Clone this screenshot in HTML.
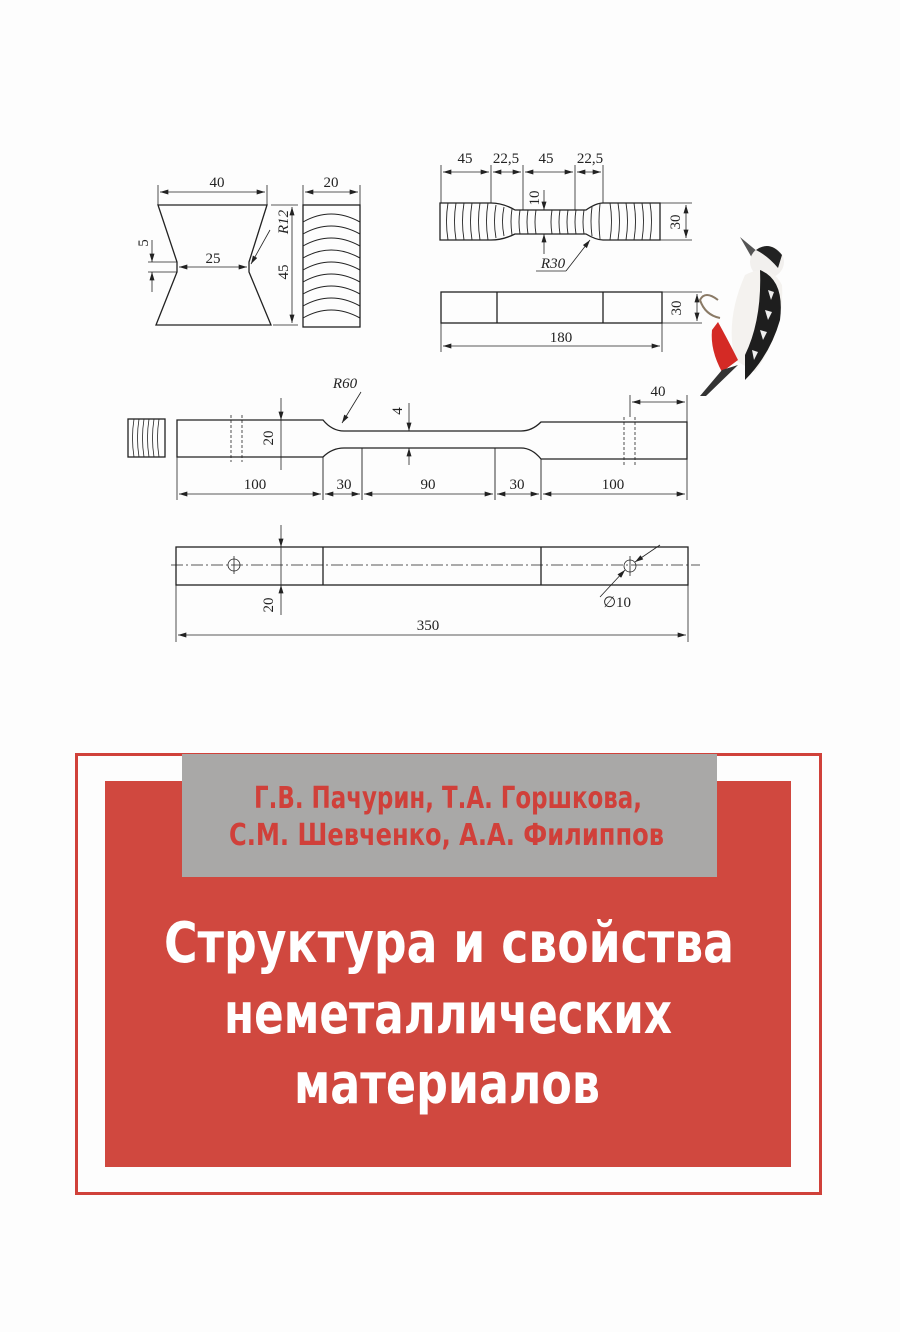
<!DOCTYPE html>
<html><head><meta charset="utf-8"><style>
html,body{margin:0;padding:0;background:#fff}
svg{display:block}
</style></head><body>
<svg width="900" height="1332" viewBox="0 0 900 1332" xmlns="http://www.w3.org/2000/svg">
<defs>
<marker id="a" viewBox="0 0 10 6" refX="10" refY="3" markerWidth="9" markerHeight="5" orient="auto-start-reverse" markerUnits="userSpaceOnUse"><path d="M0,0 L10,3 L0,6z" fill="#222"/></marker>
</defs>
<rect width="900" height="1332" fill="#fdfdfd"/>
<g stroke="#222" stroke-width="1.3" fill="none" font-family="Liberation Serif, serif" font-size="15">
<!-- trapezoid -->
<path d="M158,205 L267,205 L249,262 L249,272 L271,325 L156,325 L177,272 L177,262 Z"/>
<line x1="158" y1="205" x2="158" y2="185" stroke-width="0.8"/><line x1="267" y1="205" x2="267" y2="185" stroke-width="0.8"/>
<line x1="160" y1="192" x2="265" y2="192" stroke-width="0.8" marker-start="url(#a)" marker-end="url(#a)"/>
<line x1="179" y1="267" x2="247" y2="267" stroke-width="0.8" marker-start="url(#a)" marker-end="url(#a)"/>
<line x1="148" y1="262" x2="177" y2="262" stroke-width="0.8"/><line x1="148" y1="272" x2="177" y2="272" stroke-width="0.8"/>
<line x1="152" y1="240" x2="152" y2="262" stroke-width="0.8" marker-end="url(#a)"/><line x1="152" y1="292" x2="152" y2="272" stroke-width="0.8" marker-end="url(#a)"/>
<line x1="271" y1="205" x2="298" y2="205" stroke-width="0.8"/><line x1="273" y1="325" x2="298" y2="325" stroke-width="0.8"/>
<line x1="292" y1="207" x2="292" y2="323" stroke-width="0.8" marker-start="url(#a)" marker-end="url(#a)"/>
<line x1="270" y1="230" x2="251" y2="264" stroke-width="0.8" marker-end="url(#a)"/>
<!-- block 20 -->
<rect x="303" y="205" width="57" height="122"/>
<g stroke-width="1">
<path d="M303,222 Q331,206 360,222"/><path d="M303,234 Q331,218 360,234"/><path d="M303,246 Q331,230 360,246"/><path d="M303,258 Q331,242 360,258"/><path d="M303,270 Q331,254 360,270"/><path d="M303,282 Q331,266 360,282"/><path d="M303,294 Q331,278 360,294"/><path d="M303,306 Q331,290 360,306"/><path d="M303,318 Q331,302 360,318"/>
</g>
<line x1="303" y1="205" x2="303" y2="185" stroke-width="0.8"/><line x1="360" y1="205" x2="360" y2="185" stroke-width="0.8"/>
<line x1="305" y1="192" x2="358" y2="192" stroke-width="0.8" marker-start="url(#a)" marker-end="url(#a)"/>
<!-- dogbone -->
<path d="M440,203 L491,203 Q503,203 515,210 L586,210 Q596,203 603,203 L660,203 L660,240 L603,240 Q596,240 586,234 L515,234 Q503,240 491,240 L440,240 Z"/>
<g stroke-width="0.9">
<path d="M448,203 Q445,221 448,240"/><path d="M456,203 Q453,221 456,240"/><path d="M464,203 Q461,221 464,240"/><path d="M472,203 Q469,221 472,240"/><path d="M480,203 Q477,221 480,240"/><path d="M488,203 Q485,221 488,240"/><path d="M496,205 Q493,221 496,238"/><path d="M504,207 Q501,221 504,236"/><path d="M512,209 Q510,221 512,235"/><path d="M520,210 Q518,222 520,234"/><path d="M528,210 Q526,222 528,234"/><path d="M536,210 Q534,222 536,234"/><path d="M552,210 Q550,222 552,234"/><path d="M560,210 Q558,222 560,234"/><path d="M568,210 Q566,222 568,234"/><path d="M576,210 Q574,222 576,234"/><path d="M584,210 Q582,222 584,234"/><path d="M592,207 Q590,221 592,236"/><path d="M600,204 Q598,221 600,239"/><path d="M610,203 Q613,221 610,240"/><path d="M618,203 Q621,221 618,240"/><path d="M626,203 Q629,221 626,240"/><path d="M634,203 Q637,221 634,240"/><path d="M642,203 Q645,221 642,240"/><path d="M650,203 Q653,221 650,240"/>
</g>
<g stroke-width="0.8">
<line x1="441" y1="203" x2="441" y2="165"/><line x1="491" y1="203" x2="491" y2="165"/><line x1="523" y1="210" x2="523" y2="165"/><line x1="575" y1="210" x2="575" y2="165"/><line x1="603" y1="203" x2="603" y2="165"/>
<line x1="443" y1="172" x2="489" y2="172" marker-start="url(#a)" marker-end="url(#a)"/>
<line x1="493" y1="172" x2="521" y2="172" marker-start="url(#a)" marker-end="url(#a)"/>
<line x1="525" y1="172" x2="573" y2="172" marker-start="url(#a)" marker-end="url(#a)"/>
<line x1="577" y1="172" x2="601" y2="172" marker-start="url(#a)" marker-end="url(#a)"/>
<line x1="660" y1="203" x2="692" y2="203"/><line x1="660" y1="240" x2="692" y2="240"/>
<line x1="686" y1="205" x2="686" y2="238" marker-start="url(#a)" marker-end="url(#a)"/>
<line x1="544" y1="190" x2="544" y2="210" marker-end="url(#a)"/><line x1="544" y1="254" x2="544" y2="234" marker-end="url(#a)"/>
<line x1="536" y1="271" x2="566" y2="271"/><line x1="566" y1="271" x2="590" y2="240" marker-end="url(#a)"/>
</g>
<!-- rect 180 -->
<rect x="441" y="292" width="221" height="31"/>
<line x1="497" y1="292" x2="497" y2="323"/><line x1="603" y1="292" x2="603" y2="323"/>
<g stroke-width="0.8">
<line x1="441" y1="323" x2="441" y2="352"/><line x1="662" y1="323" x2="662" y2="352"/>
<line x1="443" y1="346" x2="660" y2="346" marker-start="url(#a)" marker-end="url(#a)"/>
<line x1="662" y1="292" x2="702" y2="292"/><line x1="662" y1="323" x2="702" y2="323"/>
<line x1="697" y1="294" x2="697" y2="321" marker-start="url(#a)" marker-end="url(#a)"/>
</g>
<!-- small block -->
<rect x="128" y="419" width="37" height="38"/>
<g stroke-width="0.8"><path d="M134,419 Q131,438 134,457"/><path d="M139,419 Q136,438 139,457"/><path d="M144,419 Q141,438 144,457"/><path d="M149,419 Q146,438 149,457"/><path d="M154,419 Q151,438 154,457"/><path d="M159,419 Q156,438 159,457"/></g>
<!-- long specimen -->
<path d="M177,420 L323,420 Q332,431 344,431 L521,431 Q532,431 541,422 L687,422 L687,459 L541,459 Q532,448 521,448 L344,448 Q332,448 323,457 L177,457 Z"/>
<line x1="362" y1="448" x2="362" y2="500" stroke-width="0.9"/><line x1="495" y1="448" x2="495" y2="500" stroke-width="0.9"/>
<line x1="323" y1="457" x2="323" y2="500" stroke-width="0.9"/><line x1="541" y1="459" x2="541" y2="500" stroke-width="0.9"/>
<g stroke-width="0.8">
<line x1="231" y1="415" x2="231" y2="462" stroke-dasharray="3,2"/><line x1="242" y1="415" x2="242" y2="462" stroke-dasharray="3,2"/>
<line x1="624" y1="417" x2="624" y2="465" stroke-dasharray="3,2"/><line x1="635" y1="417" x2="635" y2="465" stroke-dasharray="3,2"/>
<line x1="177" y1="457" x2="177" y2="500"/><line x1="687" y1="459" x2="687" y2="500"/><line x1="687" y1="422" x2="687" y2="395"/><line x1="630" y1="417" x2="630" y2="395"/>
<line x1="179" y1="494" x2="321" y2="494" marker-start="url(#a)" marker-end="url(#a)"/>
<line x1="325" y1="494" x2="360" y2="494" marker-start="url(#a)" marker-end="url(#a)"/>
<line x1="364" y1="494" x2="493" y2="494" marker-start="url(#a)" marker-end="url(#a)"/>
<line x1="497" y1="494" x2="539" y2="494" marker-start="url(#a)" marker-end="url(#a)"/>
<line x1="543" y1="494" x2="685" y2="494" marker-start="url(#a)" marker-end="url(#a)"/>
<line x1="632" y1="402" x2="685" y2="402" marker-start="url(#a)" marker-end="url(#a)"/>
<line x1="281" y1="398" x2="281" y2="420" marker-end="url(#a)"/><line x1="281" y1="420" x2="281" y2="470"/>
<line x1="409" y1="403" x2="409" y2="431" marker-end="url(#a)"/><line x1="409" y1="465" x2="409" y2="448" marker-end="url(#a)"/>
<line x1="361" y1="392" x2="342" y2="423" marker-end="url(#a)"/>
</g>
<!-- bottom bar -->
<rect x="176" y="547" width="512" height="38"/>
<line x1="323" y1="547" x2="323" y2="585"/><line x1="541" y1="547" x2="541" y2="585"/>
<g stroke-width="0.8">
<line x1="171" y1="565" x2="700" y2="565" stroke-dasharray="12,3,2,3"/>
<circle cx="234" cy="565" r="6"/><line x1="234" y1="556" x2="234" y2="574"/>
<circle cx="630" cy="566" r="6"/><line x1="630" y1="556" x2="630" y2="576"/>
<line x1="281" y1="525" x2="281" y2="547" marker-end="url(#a)"/><line x1="281" y1="547" x2="281" y2="585"/><line x1="281" y1="615" x2="281" y2="585" marker-end="url(#a)"/>
<line x1="660" y1="545" x2="635" y2="562" marker-end="url(#a)"/><line x1="600" y1="597" x2="625" y2="570" marker-end="url(#a)"/>
<line x1="176" y1="585" x2="176" y2="642"/><line x1="688" y1="585" x2="688" y2="642"/>
<line x1="178" y1="635" x2="686" y2="635" marker-start="url(#a)" marker-end="url(#a)"/>
</g>
</g>
<g font-family="Liberation Serif, serif" font-size="15" fill="#222">
<text x="217" y="187" text-anchor="middle">40</text>
<text x="213" y="263" text-anchor="middle">25</text>
<text x="331" y="187" text-anchor="middle">20</text>
<text transform="translate(148,243) rotate(-90)" text-anchor="middle">5</text>
<text transform="translate(288,272) rotate(-90)" text-anchor="middle">45</text>
<text transform="translate(288,222) rotate(-90)" text-anchor="middle" font-style="italic">R12</text>
<text x="465" y="163" text-anchor="middle">45</text>
<text x="506" y="163" text-anchor="middle">22,5</text>
<text x="546" y="163" text-anchor="middle">45</text>
<text x="590" y="163" text-anchor="middle">22,5</text>
<text transform="translate(539,198) rotate(-90)" text-anchor="middle">10</text>
<text transform="translate(680,222) rotate(-90)" text-anchor="middle">30</text>
<text x="553" y="268" text-anchor="middle" font-style="italic">R30</text>
<text x="561" y="342" text-anchor="middle">180</text>
<text transform="translate(681,308) rotate(-90)" text-anchor="middle">30</text>
<text x="345" y="388" text-anchor="middle" font-style="italic">R60</text>
<text x="658" y="396" text-anchor="middle">40</text>
<text transform="translate(402,411) rotate(-90)" text-anchor="middle">4</text>
<text transform="translate(273,438) rotate(-90)" text-anchor="middle">20</text>
<text x="255" y="489" text-anchor="middle">100</text>
<text x="344" y="489" text-anchor="middle">30</text>
<text x="428" y="489" text-anchor="middle">90</text>
<text x="517" y="489" text-anchor="middle">30</text>
<text x="613" y="489" text-anchor="middle">100</text>
<text transform="translate(273,605) rotate(-90)" text-anchor="middle">20</text>
<text x="617" y="607" text-anchor="middle">∅10</text>
<text x="428" y="630" text-anchor="middle">350</text>
</g>
<!-- bird -->
<g>
<path d="M740,237 L758,252 L752,258 Z" fill="#555"/>
<ellipse cx="767" cy="262" rx="17" ry="16" fill="#f2f0ee"/>
<path d="M756,250 Q770,240 782,255 L778,268 Q768,256 756,250Z" fill="#222"/>
<path d="M745,275 Q770,262 782,285 Q785,330 755,372 L735,360 Q725,320 745,275Z" fill="#f4f2ef"/>
<path d="M760,270 Q785,280 780,320 Q770,355 745,380 L745,355 Q762,320 760,270Z" fill="#1e1e1e"/>
<path d="M768,290 l6,2 l-3,8z M765,310 l7,2 l-4,8z M760,330 l7,2 l-4,8z M752,350 l6,2 l-4,8z" fill="#eee"/>
<path d="M718,322 Q728,340 738,360 L722,372 Q710,350 712,330Z" fill="#d42a25"/>
<path d="M722,370 L700,396 L706,396 L738,365Z" fill="#333"/>
<path d="M718,300 Q705,290 700,300 Q705,315 720,318" fill="none" stroke="#8a7a66" stroke-width="2"/>
</g>
<!-- red panel -->
<rect x="76.5" y="754.5" width="744" height="439" fill="none" stroke="#d0413a" stroke-width="3"/>
<rect x="105" y="781" width="686" height="386" fill="#d0483f"/>
<rect x="182" y="754" width="535" height="123" fill="#a9a8a7"/>
<g font-family="DejaVu Sans Condensed, DejaVu Sans, sans-serif" font-weight="bold">
<text x="254" y="808" textLength="388" lengthAdjust="spacingAndGlyphs" font-size="30" fill="#d0403a">Г.В. Пачурин, Т.А. Горшкова,</text>
<text x="229" y="845" textLength="435" lengthAdjust="spacingAndGlyphs" font-size="30" fill="#d0403a">С.М. Шевченко, А.А. Филиппов</text>
<text x="164" y="962" textLength="570" lengthAdjust="spacingAndGlyphs" font-size="56" fill="#fff">Структура и свойства</text>
<text x="224" y="1033" textLength="448" lengthAdjust="spacingAndGlyphs" font-size="56" fill="#fff">неметаллических</text>
<text x="294" y="1103" textLength="306" lengthAdjust="spacingAndGlyphs" font-size="56" fill="#fff">материалов</text>
</g>
</svg>
</body></html>
